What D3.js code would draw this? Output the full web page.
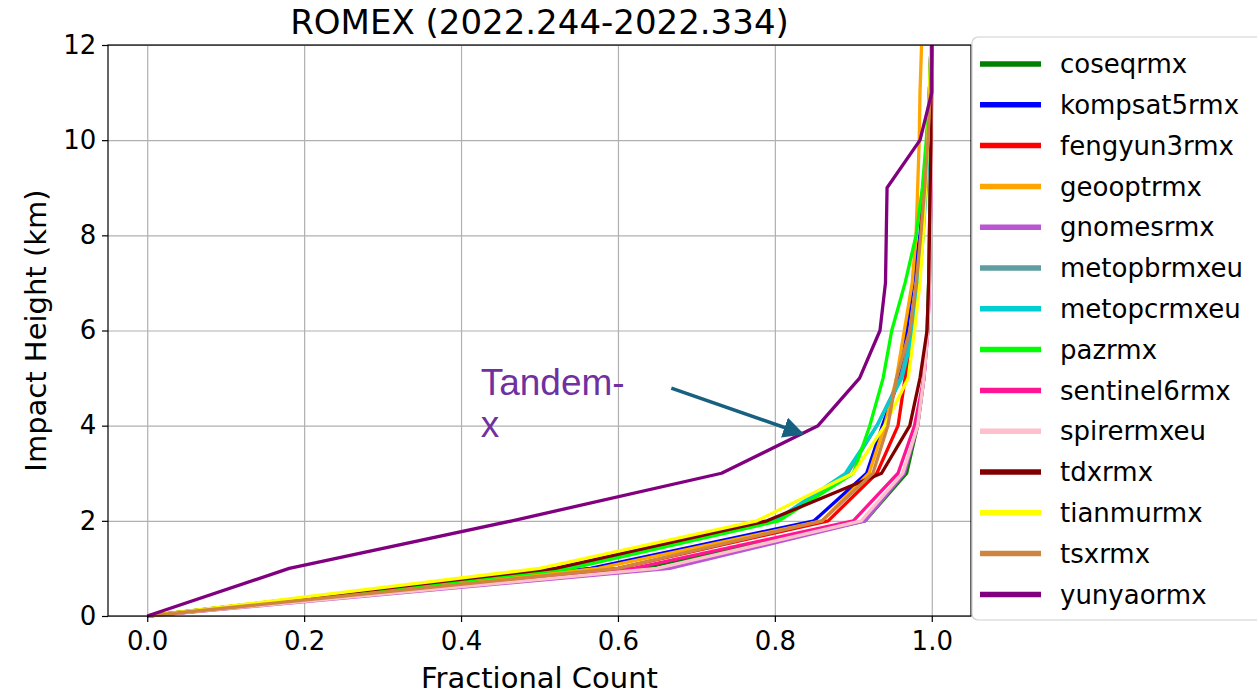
<!DOCTYPE html>
<meta charset="utf-8">
<title>ROMEX</title>
<style>
  body { margin: 0; background: #fff; }
  text { font-family: "DejaVu Sans", sans-serif; }
  .grid line { stroke: #b0b0b0; stroke-width: 1.2; }
  .grid path { display: none; }
</style>
<body>
<script src="https://cdn.jsdelivr.net/npm/d3@7"></script>
<script>

// impact heights (km) at which each fractional count was sampled
var heights = [0, 1, 2, 3, 4, 5, 6, 7, 8, 9, 10, 11, 12];

var missions = ["coseqrmx", "kompsat5rmx", "fengyun3rmx", "geooptrmx", "gnomesrmx",
  "metopbrmxeu", "metopcrmxeu", "pazrmx", "sentinel6rmx", "spirermxeu",
  "tdxrmx", "tianmurmx", "tsxrmx", "yunyaormx"];

var colors = ["#008000", "#0000ff", "#ff0000", "#ffa500", "#ba55d3",
  "#5f9ea0", "#00ced1", "#00ff00", "#ff1493", "#ffc0cb",
  "#800000", "#ffff00", "#cd853f", "#800080"];

var coseqrmx     = [0, 0.63, 0.915, 0.968, 0.982, 0.990, 0.994, 0.996, 0.997, 0.998, 0.999, 0.999, 1.0];
var kompsat5rmx  = [0, 0.565, 0.850, 0.917, 0.937, 0.959, 0.968, 0.976, 0.985, 0.990, 0.994, 0.997, 0.999];
var fengyun3rmx  = [0, 0.60, 0.868, 0.930, 0.957, 0.966, 0.976, 0.981, 0.986, 0.990, 0.994, 0.997, 0.999];
var geooptrmx    = [0, 0.575, 0.860, 0.920, 0.940, 0.955, 0.965, 0.975, 0.980, 0.982, 0.984, 0.985, 0.987];
var gnomesrmx    = [0, 0.666, 0.915, 0.965, 0.982, 0.990, 0.995, 0.997, 0.998, 0.999, 0.999, 1.0, 1.0];
var metopbrmxeu  = [0, 0.53, 0.800, 0.893, 0.930, 0.960, 0.975, 0.983, 0.988, 0.992, 0.995, 0.997, 0.999];
var metopcrmxeu  = [0, 0.535, 0.800, 0.890, 0.930, 0.962, 0.977, 0.984, 0.989, 0.993, 0.996, 0.998, 0.999];
var pazrmx       = [0, 0.54, 0.805, 0.900, 0.921, 0.938, 0.949, 0.966, 0.980, 0.988, 0.993, 0.997, 0.999];
var sentinel6rmx = [0, 0.62, 0.900, 0.957, 0.978, 0.990, 0.995, 0.997, 0.998, 0.999, 0.999, 1.0, 1.0];
var spirermxeu   = [0, 0.65, 0.910, 0.963, 0.982, 0.990, 0.995, 0.997, 0.998, 0.999, 1.0, 1.0, 1.0];
var tdxrmx       = [0, 0.52, 0.790, 0.936, 0.972, 0.985, 0.994, 0.996, 0.997, 0.998, 0.999, 0.999, 1.0];
var tianmurmx    = [0, 0.50, 0.777, 0.900, 0.940, 0.970, 0.978, 0.985, 0.989, 0.992, 0.995, 0.997, 0.999];
var tsxrmx       = [0, 0.60, 0.860, 0.925, 0.944, 0.955, 0.972, 0.980, 0.986, 0.991, 0.995, 0.998, 1.0];
var yunyaormx    = [0, 0.181, 0.465, 0.732, 0.855, 0.908, 0.934, 0.941, 0.942, 0.943, 0.985, 1.0, 1.0];

var counts = [coseqrmx, kompsat5rmx, fengyun3rmx, geooptrmx, gnomesrmx, metopbrmxeu,
  metopcrmxeu, pazrmx, sentinel6rmx, spirermxeu, tdxrmx, tianmurmx, tsxrmx, yunyaormx];

var xTicks = [0, 0.2, 0.4, 0.6, 0.8, 1.0];
var yTicks = [0, 2, 4, 6, 8, 10, 12];

// plot box
var W = 1257, H = 694;
var box = {left: 108, right: 971, top: 45, bottom: 616};

var x = d3.scaleLinear().domain([-0.05, 1.05]).range([box.left, box.right]);
var y = d3.scaleLinear().domain([0, 12]).range([box.bottom, box.top]);

var svg = d3.select("body").append("svg")
  .attr("width", W).attr("height", H);

// grid
svg.append("g").attr("class", "grid")
  .attr("transform", "translate(0," + box.bottom + ")")
  .call(d3.axisBottom(x).tickValues(xTicks).tickSize(-(box.bottom - box.top)).tickFormat(""));
svg.append("g").attr("class", "grid")
  .attr("transform", "translate(" + box.left + ",0)")
  .call(d3.axisLeft(y).tickValues(yTicks).tickSize(-(box.right - box.left)).tickFormat(""));

// lines
var line = d3.line()
  .x(function(d) { return x(d[0]); })
  .y(function(d) { return y(d[1]); });

missions.forEach(function(m, i) {
  var pts = heights.map(function(h, j) { return [counts[i][j], h]; });
  svg.append("path")
    .datum(pts)
    .attr("d", line)
    .attr("fill", "none")
    .attr("stroke", colors[i])
    .attr("stroke-width", 3.3)
    .attr("stroke-linejoin", "round");
});

// frame
svg.append("rect")
  .attr("x", box.left).attr("y", box.top)
  .attr("width", box.right - box.left).attr("height", box.bottom - box.top)
  .attr("fill", "none").attr("stroke", "#000").attr("stroke-width", 1.2);

// axes
var xAxis = svg.append("g")
  .attr("transform", "translate(0," + box.bottom + ")")
  .call(d3.axisBottom(x).tickValues(xTicks).tickSize(6).tickFormat(d3.format(".1f")));
var yAxis = svg.append("g")
  .attr("transform", "translate(" + box.left + ",0)")
  .call(d3.axisLeft(y).tickValues(yTicks).tickSize(6).tickFormat(d3.format("d")));
[xAxis, yAxis].forEach(function(a) {
  a.select(".domain").remove();
  a.selectAll("line").attr("stroke", "#000").attr("stroke-width", 1.2);
  a.selectAll("text").style("font-size", "26px").attr("fill", "#000");
});
xAxis.selectAll("text").attr("dy", "0.95em");
yAxis.selectAll("text").attr("dx", "-0.1em");

// labels
svg.append("text")
  .attr("x", (box.left + box.right) / 2).attr("y", 34)
  .style("text-anchor", "middle").style("font-size", "34px")
  .text("ROMEX (2022.244-2022.334)");

svg.append("text")
  .attr("x", (box.left + box.right) / 2).attr("y", 688)
  .style("text-anchor", "middle").style("font-size", "29px")
  .text("Fractional Count");

svg.append("text")
  .attr("transform", "translate(46," + ((box.top + box.bottom) / 2) + ") rotate(-90)")
  .style("text-anchor", "middle").style("font-size", "29px")
  .text("Impact Height (km)");

// Tandem-x annotation
var arrowFrom = [0.668, 4.79], arrowTo = [0.835, 3.83];
svg.append("defs").append("marker")
  .attr("id", "head").attr("viewBox", "0 0 10 10")
  .attr("refX", 9).attr("refY", 5)
  .attr("markerWidth", 6).attr("markerHeight", 6)
  .attr("markerUnits", "strokeWidth")
  .attr("orient", "auto")
  .append("path").attr("d", "M0,0 L10,5 L0,10 z").attr("fill", "#17607f");

svg.append("line")
  .attr("x1", x(arrowFrom[0])).attr("y1", y(arrowFrom[1]))
  .attr("x2", x(arrowTo[0])).attr("y2", y(arrowTo[1]))
  .attr("stroke", "#17607f").attr("stroke-width", 3.5)
  .attr("marker-end", "url(#head)");

svg.append("text")
  .attr("x", x(0.425)).attr("y", y(4.64))
  .style("font-family", "Liberation Sans, Arial, sans-serif")
  .style("font-size", "37px").attr("fill", "#7030a0")
  .text("Tandem-");
svg.append("text")
  .attr("x", x(0.425)).attr("y", y(3.76))
  .style("font-family", "Liberation Sans, Arial, sans-serif")
  .style("font-size", "37px").attr("fill", "#7030a0")
  .text("x");

// legend
var lg = svg.append("g");
lg.append("rect")
  .attr("x", 972).attr("y", 37).attr("width", 300).attr("height", 583)
  .attr("rx", 6)
  .attr("fill", "#fff").attr("fill-opacity", 0.9)
  .attr("stroke", "#d0d0d0").attr("stroke-width", 1.2);

missions.forEach(function(m, i) {
  var yy = 64 + i * 40.8;
  lg.append("line")
    .attr("x1", 980).attr("x2", 1041).attr("y1", yy).attr("y2", yy)
    .attr("stroke", colors[i]).attr("stroke-width", 5.5);
  lg.append("text")
    .attr("x", 1060).attr("y", yy).attr("dy", "0.35em")
    .style("font-size", "26px")
    .text(m);
});

</script>
</body>
